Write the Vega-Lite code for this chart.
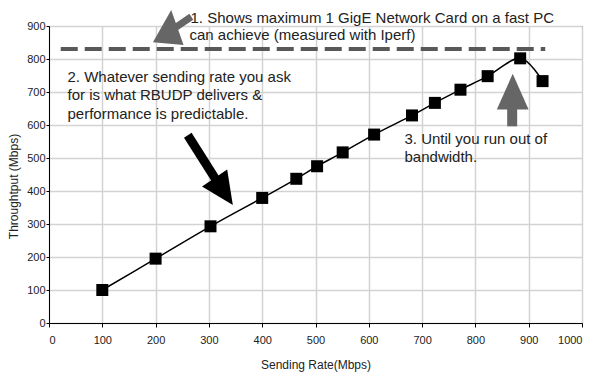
{
  "$schema": "https://vega.github.io/schema/vega-lite/v6.json",
  "width": 533,
  "height": 297,
  "autosize": {"type": "none"},
  "padding": {"left": 49, "top": 26, "right": 12, "bottom": 50},
  "background": "white",
  "config": {
    "font": "Liberation Sans",
    "view": {"stroke": "#111", "strokeWidth": 1},
    "axis": {
      "labelFont": "Liberation Sans",
      "labelFontSize": 11,
      "labelColor": "#222",
      "labelOverlap": false,
      "titleFont": "Liberation Sans",
      "titleFontSize": 12,
      "titleFontWeight": "normal",
      "titleColor": "#222",
      "domainColor": "#000",
      "tickColor": "#000",
      "gridColor": "#d3d3d3",
      "gridWidth": 1.5
    }
  },
  "datasets": {
    "perf": [
      {"rate": 100, "throughput": 100},
      {"rate": 200, "throughput": 195},
      {"rate": 303, "throughput": 293},
      {"rate": 400, "throughput": 379},
      {"rate": 464, "throughput": 437},
      {"rate": 503, "throughput": 475},
      {"rate": 551, "throughput": 517},
      {"rate": 610, "throughput": 571},
      {"rate": 681, "throughput": 629},
      {"rate": 724, "throughput": 667},
      {"rate": 772, "throughput": 707},
      {"rate": 823, "throughput": 748},
      {"rate": 884, "throughput": 802},
      {"rate": 926, "throughput": 733}
    ],
    "iperf": [{"rate": 22, "rate2": 931, "throughput": 830}],
    "shaft1": [{"rate": 237, "throughput": 895, "rate2": 267, "throughput2": 928}],
    "head1": [{"rate": 226.5, "throughput": 897.7}],
    "shaft2": [{"rate": 260.4, "throughput": 568.9, "rate2": 314, "throughput2": 432}],
    "head2": [{"rate": 327.8, "throughput": 398.2}],
    "shaft3": [{"rate": 869, "throughput": 596, "rate2": 869, "throughput2": 652}],
    "head3": [{"rate": 870, "throughput": 701}],
    "notes": [
      {"rate": 265.5, "throughput": 910, "label": "1. Shows maximum 1 GigE Network Card on a fast PC"},
      {"rate": 263.6, "throughput": 859, "label": "can achieve (measured with Iperf)"},
      {"rate": 34.7, "throughput": 730, "label": "2. Whatever sending rate you ask"},
      {"rate": 34.7, "throughput": 674.6, "label": "for is what RBUDP delivers &"},
      {"rate": 34.7, "throughput": 618, "label": "performance is predictable."},
      {"rate": 667, "throughput": 541.7, "label": "3. Until you run out of"},
      {"rate": 667, "throughput": 488, "label": "bandwidth."}
    ]
  },
  "encoding": {
    "x": {
      "field": "rate", "type": "quantitative",
      "scale": {"domain": [0, 1000], "nice": false},
      "axis": {"title": "Sending Rate(Mbps)", "values": [0, 100, 200, 300, 400, 500, 600, 700, 800, 900, 1000], "format": "d", "tickSize": 4, "labelPadding": 7, "titlePadding": 14}
    },
    "y": {
      "field": "throughput", "type": "quantitative",
      "scale": {"domain": [0, 900], "nice": false},
      "axis": {"title": "Throughtput (Mbps)", "values": [0, 100, 200, 300, 400, 500, 600, 700, 800, 900], "format": "d", "tickSize": 3, "labelPadding": 1, "titlePadding": 6, "titleY": 160}
    }
  },
  "layer": [
    {
      "data": {"name": "perf"},
      "mark": {"type": "line", "color": "#000", "strokeWidth": 1.5, "interpolate": "cardinal"}
    },
    {
      "data": {"name": "perf"},
      "mark": {"type": "point", "shape": "square", "filled": true, "opacity": 1, "color": "#000", "size": 144}
    },
    {
      "data": {"name": "iperf"},
      "mark": {"type": "rule", "color": "#585858", "strokeWidth": 4, "strokeDash": [17, 7]},
      "encoding": {
        "x2": {"field": "rate2"}
      }
    },
    {
      "data": {"name": "shaft1"},
      "mark": {"type": "rule", "color": "#666", "strokeWidth": 7},
      "encoding": {
        "x2": {"field": "rate2"},
        "y2": {"field": "throughput2"}
      }
    },
    {
      "data": {"name": "head1"},
      "mark": {"type": "point", "shape": "M0,-1L0.91,1L-0.91,1Z", "filled": true, "opacity": 1, "color": "#666", "size": 1142, "angle": 5}
    },
    {
      "data": {"name": "shaft2"},
      "mark": {"type": "rule", "color": "#000", "strokeWidth": 9},
      "encoding": {
        "x2": {"field": "rate2"},
        "y2": {"field": "throughput2"}
      }
    },
    {
      "data": {"name": "head2"},
      "mark": {"type": "point", "shape": "M0,-1L0.93,1L-0.93,1Z", "filled": true, "opacity": 1, "color": "#000", "size": 1063, "angle": 146}
    },
    {
      "data": {"name": "shaft3"},
      "mark": {"type": "rule", "color": "#666", "strokeWidth": 10},
      "encoding": {
        "y2": {"field": "throughput2"}
      }
    },
    {
      "data": {"name": "head3"},
      "mark": {"type": "point", "shape": "M0,-1L0.89,1L-0.89,1Z", "filled": true, "opacity": 1, "color": "#666", "size": 1274}
    },
    {
      "data": {"name": "notes"},
      "mark": {"type": "text", "align": "left", "baseline": "alphabetic", "fontSize": 15, "color": "#222", "font": "Liberation Sans"},
      "encoding": {
        "text": {"field": "label"}
      }
    }
  ]
}
